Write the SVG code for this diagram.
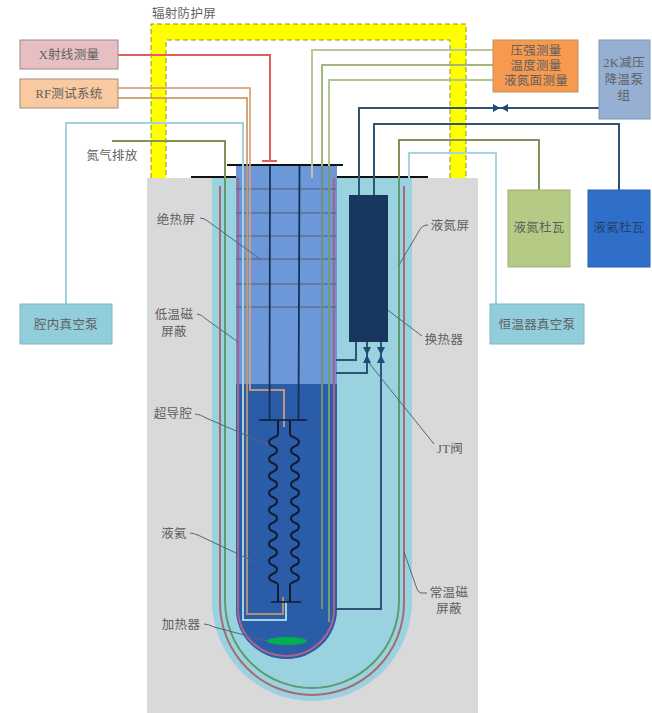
<svg xmlns="http://www.w3.org/2000/svg" width="652" height="713" viewBox="0 0 652 713">
<style>
text{font-family:"Liberation Serif","Noto Sans CJK SC",serif;font-size:12.5px;fill:#5f5f5f;text-anchor:middle;letter-spacing:.3px}
.dk{fill:#24416e}
.box{stroke-width:1}
.w{fill:none;stroke-width:2;stroke-linejoin:miter}
.lead{fill:none;stroke:#55657a;stroke-width:1}
.grid{stroke:#5b6b85;stroke-width:1.4;opacity:.85}
.rod{fill:none;stroke:#16305a;stroke-width:1.8}
.nv{fill:none;stroke:#2f5378;stroke-width:2}
.v{fill:#1f4a78}
</style>
<defs>
<path id="bellow" d="M278 420V434c0 4-9 3-9 8c0 5.500 8 3 8 8.500c0 5.500-8 3-8 8.500c0 5.500 8 3 8 8.500c0 5.500-8 3-8 8.500c0 5.500 8 3 8 8.500c0 5.500-8 3-8 8.500c0 5.500 8 3 8 8.500c0 5.500-8 3-8 8.500c0 5.500 8 3 8 8.500c0 5.500-8 3-8 8.500c0 5.500 8 3 8 8.500c0 5.500-8 3-8 8.500c0 5.500 8 3 8 8.500c0 5.500-8 3-8 8.500c0 5.500 8 3 8 8.500c0 5.500-8 3-8 8.500c0 4 9 3 9 7V602" fill="none" stroke="#101c30" stroke-width="2"/>
</defs>
<rect width="652" height="713" fill="#fff"/>
<g id="cryostat">
<rect x="147" y="178" width="331" height="535" fill="#d9d9d9"/>
<path d="M212 178H412V601A100 100 0 0 1 212 601Z" fill="#9ad2e0"/>
<path d="M236 166H337V609A50.500 50 0 0 1 236 609Z" fill="#6c97d9"/>
<path d="M236 384H337V609A50.500 50 0 0 1 236 609Z" fill="#2b5ca8"/>
<path d="M238 178V609A48 47 0 0 0 334 609V178" fill="none" stroke="#a8658c" stroke-width="2.200"/>
<path d="M220 186V603A92 92 0 0 0 404 603V186" fill="none" stroke="#a86a70" stroke-width="2"/>
<path d="M225 178V601A87 87 0 0 0 399 601V178" fill="none" stroke="#5f9a70" stroke-width="2"/>
<path d="M191 177H236M337 177H428M227 165H343" fill="none" stroke="#111" stroke-width="2"/>
</g>
<g id="shield">
<path d="M151 24H466V178H450V40H166V178H151Z" fill="#ffff00"/>
<path d="M151 178V24H466V178M450 178V40H166V178" fill="none" stroke="#8f8f2a" stroke-width="1" stroke-dasharray="5 3"/>
<text x="184" y="18">辐射防护屏</text>
</g>
<g id="connectors">
<path class="grid" d="M236 189H336M236 213H336M236 236H336M236 259H336M236 284H336M236 307H336"/>
<path class="w" stroke="#a5d0e0" d="M66 304V123H243V620H286V602"/>
<path class="w" stroke="#d8a078" stroke-opacity=".85" d="M118 88H250V390H284V427"/>
<path class="w" stroke="#c9986a" stroke-opacity=".85" d="M118 98H247V614H283V597"/>
<path class="w" stroke="#e06060" d="M118 55H270V160"/>
<path d="M262 161H277" stroke="#e06060" stroke-width="2"/>
<path class="w" stroke="#7d9358" d="M112 141H225V178"/>
<path class="w" stroke="#7d9358" d="M399 178V140H539V213"/>
<path class="w" stroke="#b9c79a" d="M493 50H312V178"/>
<path class="w" stroke="#a3b57f" d="M493 65H322V166"/>
<path class="w" stroke="#6f8f80" d="M322 166V609"/>
<path class="w" stroke="#b5c48c" d="M493 80H329V166"/>
<path class="w" stroke="#6f9e7e" d="M329 166V622"/>
<path class="w" stroke="#a5d5e2" d="M409 178V153H496V304"/>
<path class="nv" d="M600 108H359V195"/>
<path class="nv" d="M374 195V124H619V215"/>
<path class="nv" d="M356 342V360H336M367 342V373H336M381 342V609H336"/>
<path class="rod" d="M270 166L269.500 420M299.500 166L298.500 420"/>
<path d="M259 420H307M271 602H301" stroke="#101c30" stroke-width="1.600"/>
<use href="#bellow"/>
<use href="#bellow" transform="translate(568 0) scale(-1 1)"/>
<path class="v" d="M493 104L500 108L493 112ZM508 104L501 108L508 112Z"/>
<path class="v" d="M363 347H371L367 355ZM363 363H371L367 355ZM377 347H385L381 355ZM377 363H385L381 355Z"/>
<path class="lead" d="M200 218Q205 218 209 222L260 259"/>
<path class="lead" d="M197 314Q201 314 206 319L238 342"/>
<path class="lead" d="M195 414Q200 414 206 418L269 445"/>
<path class="lead" d="M190 533Q194 533 200 536L255 562"/>
<path class="lead" d="M204 624Q208 624 214 627L267 641"/>
<path class="lead" d="M428 225Q422 225 419 231L399 265"/>
<path class="lead" d="M422 336L381 305"/>
<path class="lead" d="M434 444L369 363"/>
<path class="lead" d="M427 593H421Q419 593 417 589L404 552"/>
</g>
<g id="exchanger"><rect x="349" y="195" width="39" height="147" fill="#17375e"/><text x="444" y="344">换热器</text></g>
<g id="heater"><ellipse cx="287" cy="641" rx="20" ry="4" fill="#00b050"/><text x="181" y="629">加热器</text></g>
<g id="xray"><rect class="box" x="20" y="40" width="98" height="29" fill="#e6bfc3" stroke="#a08888"/><text x="69" y="59">X射线测量</text></g>
<g id="rf"><rect class="box" x="20" y="79" width="98" height="29" fill="#f9c9a1" stroke="#a88c70"/><text x="69" y="98">RF测试系统</text></g>
<g id="measure"><rect class="box" x="493" y="40" width="85" height="52" fill="#f79a50" stroke="#c0905f"/><text y="55"><tspan x="536">压强测量</tspan><tspan x="536" dy="15">温度测量</tspan><tspan x="536" dy="15">液氮面测量</tspan></text></g>
<g id="pump2k"><rect class="box" x="599" y="40" width="51" height="79" fill="#95b0d3" stroke="#7f97b8"/><text y="67"><tspan x="624">2K减压</tspan><tspan x="624" dy="17">降温泵</tspan><tspan x="624" dy="16">组</tspan></text></g>
<g id="ln2"><rect class="box" x="508" y="190" width="62" height="77" fill="#b5cb85" stroke="#9db070"/><text x="539" y="232">液氮杜瓦</text></g>
<g id="lhe"><rect class="box" x="588" y="190" width="62" height="77" fill="#2f6fc9" stroke="#2a62b0"/><text class="dk" x="619" y="232">液氦杜瓦</text></g>
<g id="pump1"><rect class="box" x="20" y="304" width="92" height="40" fill="#92cddc" stroke="#7fb5c4"/><text x="66" y="329">腔内真空泵</text></g>
<g id="pump2"><rect class="box" x="490" y="304" width="94" height="40" fill="#92cddc" stroke="#7fb5c4"/><text x="537" y="329">恒温器真空泵</text></g>
<g id="labels">
<text x="112" y="160">氮气排放</text>
<text x="176" y="224">绝热屏</text>
<text y="319"><tspan x="174">低温磁</tspan><tspan x="174" dy="17">屏蔽</tspan></text>
<text x="173" y="418">超导腔</text>
<text x="174" y="538">液氦</text>
<text x="450" y="230">液氮屏</text>
<text x="450" y="453">JT阀</text>
<text y="597"><tspan x="449">常温磁</tspan><tspan x="449" dy="16">屏蔽</tspan></text>
</g>
</svg>
